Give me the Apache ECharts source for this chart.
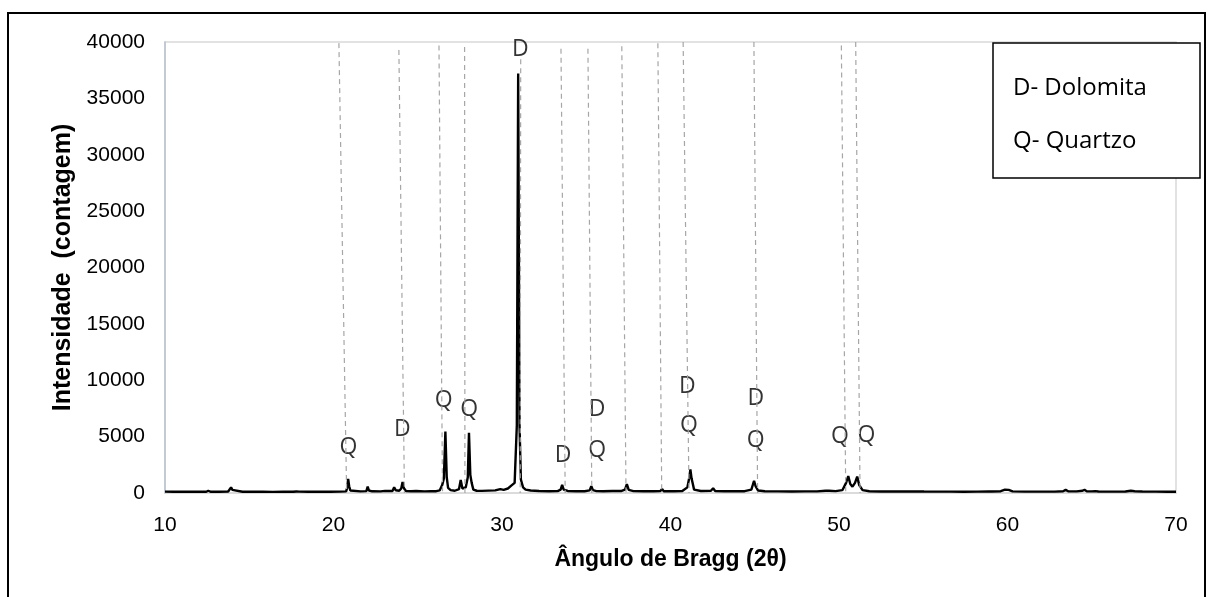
<!DOCTYPE html>
<html><head><meta charset="utf-8">
<script src="https://cdn.jsdelivr.net/npm/echarts/dist/echarts.min.js"></script>
<style>html,body{margin:0;padding:0;background:#fff}#chart{width:1208px;height:597px}</style>
</head><body><div id="chart"></div>
<script>
// Diffractogram points: [2θ (deg), intensity (counts)]
const xrdPoints = [
  [10.0,120],[10.5,110],[11.0,115],[11.5,105],[12.0,110],[12.45,110],[12.57,200],[12.7,110],
  [13.2,115],[13.75,130],[13.85,300],[13.92,500],[14.0,280],[14.1,130],[14.6,115],[15.2,105],
  [15.8,110],[16.4,100],[17.0,110],[17.6,105],[17.8,130],[17.88,170],[17.96,120],[18.5,110],
  [19.2,105],[19.8,115],[20.4,120],[20.75,140],[20.82,500],[20.87,1250],[20.93,600],[21.0,220],
  [21.1,150],[21.6,140],[21.95,170],[22.03,560],[22.1,220],[22.3,150],[22.8,140],[23.05,190],
  [23.15,150],[23.5,180],[23.6,500],[23.7,240],[23.9,200],[24.02,400],[24.1,980],[24.18,420],
  [24.3,180],[24.6,150],[24.9,180],[25.0,150],[25.4,140],[25.8,170],[26.1,160],[26.3,230],
  [26.45,700],[26.55,1300],[26.64,5450],[26.72,1400],[26.8,450],[26.95,250],[27.2,200],[27.45,350],
  [27.55,1150],[27.65,400],[27.85,500],[27.97,1400],[28.04,5350],[28.12,1600],[28.2,900],[28.3,300],
  [28.5,200],[28.8,190],[29.2,210],[29.6,230],[29.9,350],[30.1,280],[30.35,400],[30.55,650],
  [30.75,900],[30.88,6000],[30.96,37200],[31.04,6000],[31.12,1200],[31.25,500],[31.4,300],[31.7,220],
  [32.2,180],[32.8,160],[33.3,170],[33.48,300],[33.57,720],[33.66,300],[33.9,180],[34.4,160],
  [34.9,160],[35.2,230],[35.3,600],[35.4,250],[35.6,170],[36.0,160],[36.55,180],[36.64,330],
  [36.75,180],[37.1,180],[37.3,300],[37.41,780],[37.52,280],[37.8,170],[38.4,150],[39.0,150],
  [39.4,170],[39.5,350],[39.6,160],[40.2,150],[40.7,170],[41.0,500],[41.12,1400],[41.18,2100],
  [41.25,1300],[41.4,300],[41.8,180],[42.4,200],[42.53,420],[42.65,180],[43.2,150],[43.8,160],
  [43.87,200],[43.95,150],[44.4,160],[44.8,300],[44.9,800],[44.96,1070],[45.05,600],[45.2,220],
  [45.6,150],[46.4,140],[47.2,130],[48.0,140],[48.7,140],[49.2,200],[49.3,330],[49.4,200],
  [49.8,170],[50.2,250],[50.42,900],[50.55,1500],[50.67,800],[50.8,560],[50.95,900],[51.08,1450],
  [51.2,700],[51.4,250],[51.8,160],[52.5,130],[53.3,130],[54.1,130],[54.9,140],[54.96,180],
  [55.05,130],[55.8,120],[56.6,120],[57.4,115],[58.2,120],[58.9,140],[58.98,190],[59.06,130],
  [59.6,160],[59.85,300],[59.95,420],[60.07,280],[60.3,140],[61.0,120],[61.9,125],[62.0,160],
  [62.1,120],[62.8,120],[63.3,160],[63.45,280],[63.6,150],[64.1,140],[64.45,200],[64.57,280],
  [64.7,160],[65.0,140],[65.2,170],[65.4,130],[66.2,120],[67.0,130],[67.32,200],[67.42,280],
  [67.55,160],[68.0,130],[68.8,120],[69.5,110],[70.0,110]
];

// Phase labels (D = dolomita, Q = quartzo)
const labelText  = ['Q','D','Q','Q','D','D','D','Q','D','Q','D','Q','Q','Q'];
const labelAngle = [20.89,24.09,26.54,28.05,31.09,33.63,35.65,35.65,41.0,41.09,45.06,45.06,50.05,51.63];
const labelValue = [4030,5650,8240,7450,39300,3370,7420,3810,9420,6030,8400,4700,4990,5140];

// Dashed guide lines (top end / bottom end)
const guideTopAngle    = [20.32,23.88,26.26,27.78,31.11,33.50,35.10,37.11,39.25,40.75,44.95,50.14,50.99];
const guideTopValue    = [39900,39300,39700,39560,38470,39400,39400,39630,39880,40000,40000,39700,40000];
const guideBottomAngle = [20.78,24.21,26.47,27.80,31.08,33.75,35.33,37.36,39.48,41.10,45.17,50.40,51.25];

const legendLines = ['D- Dolomita','Q- Quartzo'];
const xName = 'Ângulo de Bragg (2θ)';
const yName = 'Intensidade  (contagem)';

const chart = echarts.init(document.getElementById('chart'), null, {renderer:'canvas'});
const guideData = guideTopAngle.map((t,i)=>[
  {coord:[t, guideTopValue[i]]},
  {coord:[guideBottomAngle[i], 0]}
]);
const labelData = labelAngle.map((a,i)=>({value:[a,labelValue[i]], name:labelText[i]}));

chart.setOption({
  animation:false,
  backgroundColor:'#fff',
  grid:{left:165,right:32,top:42,bottom:104,show:true,borderColor:'#d9d9d9',borderWidth:1.5,backgroundColor:'transparent'},
  xAxis:{type:'value',min:10,max:70,interval:10,
    axisLine:{show:true,lineStyle:{color:'#d9d9d9',width:1.5}},
    axisTick:{show:false},splitLine:{show:false},
    axisLabel:{fontSize:21,color:'#000',margin:22,fontFamily:'Liberation Sans, Arial'},
    name:xName,nameLocation:'middle',nameGap:55,
    nameTextStyle:{fontSize:23,fontWeight:'bold',color:'#000',fontFamily:'Liberation Sans, Arial'}},
  yAxis:{type:'value',min:0,max:40000,interval:5000,
    axisLine:{show:true,lineStyle:{color:'#b9c2cf',width:1.5}},
    axisTick:{show:false},splitLine:{show:false},
    axisLabel:{fontSize:21,color:'#000',margin:20,fontFamily:'Liberation Sans, Arial',formatter:v=>String(v)},
    name:yName,nameLocation:'middle',nameGap:88,
    nameTextStyle:{fontSize:25,fontWeight:'bold',color:'#000',fontFamily:'Liberation Sans, Arial'}},
  series:[
    {type:'line',data:[],silent:true,z:1,
      markLine:{silent:true,symbol:['none','none'],label:{show:false},animation:false,
        lineStyle:{color:'#a6a6a6',type:[5,4],width:1.2},data:guideData}},
    {type:'line',data:xrdPoints,showSymbol:false,symbol:'none',z:3,
      lineStyle:{color:'#000',width:2.4},silent:true},
    {type:'scatter',data:labelData,symbolSize:1,clip:false,z:4,silent:true,
      itemStyle:{color:'rgba(0,0,0,0)'},
      label:{show:true,position:'inside',formatter:p=>p.name,fontSize:23,color:'#000',fontFamily:'Open Sans'}}
  ],
  graphic:[
    {type:'rect',shape:{x:8,y:13,width:1197,height:600},style:{fill:'none',stroke:'#000',lineWidth:2},z:10},
    {type:'rect',shape:{x:993,y:43,width:207,height:135},style:{fill:'#fff',stroke:'#000',lineWidth:1.5},z:20},
    {type:'text',x:1013,y:88,style:{text:legendLines[0],font:'24px "Open Sans"',fill:'#000',textVerticalAlign:'middle'},z:21},
    {type:'text',x:1013,y:141,style:{text:legendLines[1],font:'24px "Open Sans"',fill:'#000',textVerticalAlign:'middle'},z:21}
  ]
});
</script></body></html>
